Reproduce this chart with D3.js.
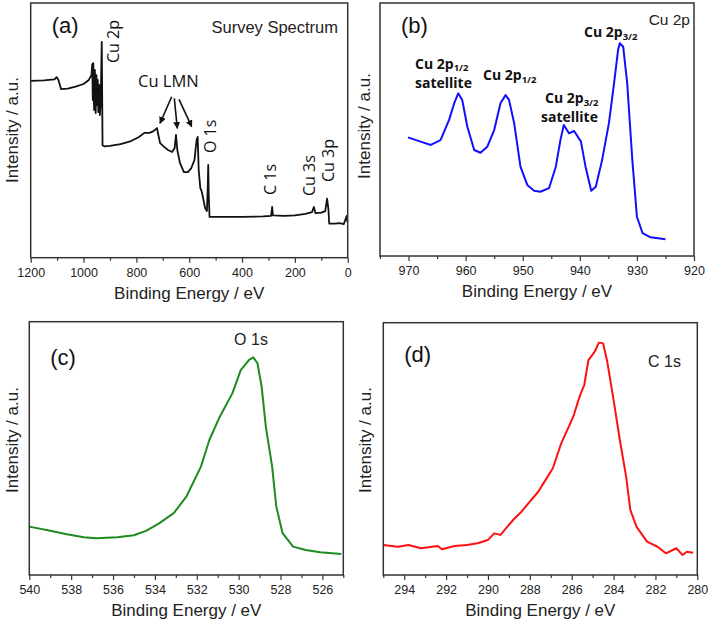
<!DOCTYPE html>
<html><head><meta charset="utf-8">
<script src="https://cdn.jsdelivr.net/npm/d3@7"></script>
<style>body{margin:0;background:#fff}svg{display:block}</style>
</head><body>
<svg id="c" width="708" height="626"></svg>
<script>
// ---- Data ----
// (a) Survey spectrum
const surveyEV = [1200,1150,1110,1102,1095,1085,1060,1030,1000,980,970,967,965,963,960,957,954,951,948,946,944,941,938,935,931,928,920,900,860,820,790,770,750,735,722,716,710,695,680,665,655,650,645,635,620,605,592,580,572,568,564,558,552,546,540,533,530,528,526,523,480,400,320,290,286,283,240,200,160,135,128,122,100,85,78,73,70,50,30,15,8,4,1];
const surveyI = [69.4,69.6,70.0,70.9,69.8,66.2,66.4,67.2,68.2,69.8,71.7,76.0,61.9,76.4,58.0,73.7,56.8,71.7,59.9,69.8,57.2,67.8,56.0,61.9,84.7,44.2,43.7,43.9,44.6,45.8,47.4,49.0,49.0,49.7,50.9,47.8,45.0,43.5,42.3,41.5,43.1,48.2,42.3,37.2,33.6,33.6,35.2,38.4,46.2,47.4,34.4,27.4,25.8,22.7,19.5,18.3,26.6,36.4,24.5,16.0,16.0,16.0,16.2,16.4,19.9,16.6,16.4,16.6,17.2,17.9,19.9,17.5,17.7,18.3,23.2,19.1,13.4,13.4,13.6,13.2,15.2,16.4,14.0];
// (b) Cu 2p
const cu2pEV = [970.1,967.9,966.1,964.4,962.9,962.0,961.3,960.6,959.7,958.5,957.4,956.2,955.0,953.9,953.0,952.4,951.5,950.4,949.2,948.0,946.9,945.4,944.2,943.4,942.8,941.9,941.0,939.8,939.0,938.0,937.2,936.1,934.9,934.0,933.3,933.0,932.4,931.7,930.8,930.0,929.0,927.6,925.0];
const cu2pI = [46.9,45.2,43.9,45.8,53.8,60.4,64.3,61.7,51.1,41.9,40.8,43.2,49.8,60.4,63.6,61.7,52.5,35.3,28.1,25.8,25.4,26.8,35.3,45.8,51.8,48.5,49.4,45.2,35.3,25.8,27.4,37.9,52.5,68.3,81.4,84.1,82.7,68.3,37.9,15.5,9.0,7.4,6.6];
// (c) O 1s
const o1sEV = [540,539.0,538.2,537.4,536.8,535.8,535.0,534.4,533.8,533.1,532.5,531.8,531.4,530.9,530.3,529.9,529.5,529.3,529.1,528.9,528.7,528.4,528.2,527.9,527.4,526.8,526.1,525.1];
const o1sI = [19.1,17.5,16.1,14.9,14.5,14.9,15.7,17.5,20.4,24.4,30.9,42.8,53.3,62.5,71.7,80.9,84.9,85.9,83.6,74.3,58.5,42.8,27.0,16.5,11.2,9.9,9.0,8.3];
// (d) C 1s
const c1sEV = [295.0,294.3,293.8,293.2,292.4,292.2,291.6,291.0,290.5,290.0,289.7,289.4,289.1,288.8,288.4,288.0,287.6,287.3,286.9,286.5,286.1,285.9,285.6,285.4,285.2,284.9,284.7,284.5,284.3,284.0,283.7,283.4,283.2,282.9,282.4,281.9,281.5,281.0,280.7,280.5,280.2];
const c1sI = [11.9,11.2,11.9,10.6,11.5,10.2,11.5,11.9,12.6,13.9,16.5,15.9,18.9,21.8,25.1,29.1,33.0,37.0,42.3,52.2,59.5,63.4,71.3,75.3,85.2,88.5,92.1,91.8,84.5,69.4,53.5,39.0,25.8,19.1,13.2,11.2,8.6,10.6,7.9,9.2,8.8];

// tick values
const surveyTicks = [1200,1000,800,600,400,200,0];
const surveyMinor = [1100,900,700,500,300,100];
const cu2pTicks = [970,960,950,940,930,920];
const cu2pMinor = [975,965,955,945,935,925];
const o1sTicks = [540,538,536,534,532,530,528,526];
const o1sMinor = [539,537,535,533,531,529,527,525];
const c1sTicks = [294,292,290,288,286,284,282,280];
const c1sMinor = [295,293,291,289,287,285,283,281];

const xTitle = "Binding Energy / eV";
const yTitle = "Intensity / a.u.";

// ---- Drawing ----
const svg = d3.select("#c");
svg.append("rect").attr("width",708).attr("height",626).attr("fill","#fff");
const defs = svg.append("defs");
defs.append("marker").attr("id","arr").attr("viewBox","0 0 10 10").attr("refX",9).attr("refY",5)
  .attr("markerWidth",7).attr("markerHeight",7).attr("markerUnits","userSpaceOnUse").attr("orient","auto")
  .append("path").attr("d","M0,0L10,5L0,10Z").attr("fill","#111");

const AX = "'Liberation Sans', Arial, sans-serif";

function panel(cfg){
  const x = d3.scaleLinear().domain(cfg.xDomain).range([cfg.left, cfg.right]);
  const y = d3.scaleLinear().domain([0,100]).range([cfg.bottom, cfg.top]);
  const g = svg.append("g");
  g.append("g").attr("transform",`translate(0,${cfg.bottom})`)
    .call(d3.axisBottom(x).tickValues(cfg.minor).tickSize(3).tickSizeOuter(0).tickFormat(""))
    .call(s=>{s.select(".domain").remove(); s.selectAll("line").attr("stroke","#333").attr("stroke-width",1.2);});
  g.append("g").attr("transform",`translate(0,${cfg.bottom})`)
    .call(d3.axisBottom(x).tickValues(cfg.ticks).tickSize(5).tickPadding(5).tickSizeOuter(0).tickFormat(d3.format("d")))
    .call(s=>{s.select(".domain").remove(); s.selectAll("line").attr("stroke","#333").attr("stroke-width",1.2);
      s.selectAll("text").attr("font-family",AX).attr("font-size",12.5).attr("fill","#222");});
  const pts = cfg.ev.map((e,i)=>[e,cfg.inten[i]]);
  g.append("path").datum(pts)
    .attr("d", d3.line().x(d=>x(d[0])).y(d=>y(d[1])))
    .attr("fill","none").attr("stroke",cfg.color).attr("stroke-width",cfg.lw||2).attr("stroke-linejoin","round");
  g.append("rect").attr("x",cfg.left).attr("y",cfg.top).attr("width",cfg.right-cfg.left).attr("height",cfg.bottom-cfg.top)
    .attr("fill","none").attr("stroke","#333").attr("stroke-width",1.5);
  g.append("text").attr("x",(cfg.left+cfg.right)/2).attr("y",cfg.bottom+41).attr("text-anchor","middle")
    .attr("font-family",AX).attr("font-size",17).attr("fill","#222").text(xTitle);
  g.append("text").attr("transform",`translate(${cfg.yx},${cfg.yy}) rotate(-90)`).attr("text-anchor","middle")
    .attr("dominant-baseline","middle").attr("font-family",AX).attr("font-size",17).attr("fill","#222").text(yTitle);
  g.append("text").attr("x",cfg.left+21).attr("y",cfg.top+cfg.letterDy).attr("font-family",AX).attr("font-size",22)
    .attr("fill","#111").text(cfg.letter);
  return {x,y,g};
}

panel({left:30.7,right:347.7,top:3,bottom:257.7,xDomain:[1200,0],ticks:surveyTicks,minor:surveyMinor,
  ev:surveyEV,inten:surveyI,color:"#111",lw:1.8,yx:14,yy:130,letter:"(a)",letterDy:30});
panel({left:380,right:694,top:3,bottom:256,xDomain:[975,920],ticks:cu2pTicks,minor:cu2pMinor,
  ev:cu2pEV,inten:cu2pI,color:"#1010ff",lw:2,yx:366,yy:126,letter:"(b)",letterDy:30});
panel({left:29.3,right:343.3,top:321.7,bottom:575,xDomain:[540,525],ticks:o1sTicks,minor:o1sMinor,
  ev:o1sEV,inten:o1sI,color:"#1f8a1f",lw:2,yx:14,yy:440,letter:"(c)",letterDy:43});
panel({left:383.3,right:697.3,top:322.7,bottom:575,xDomain:[295,280],ticks:c1sTicks,minor:c1sMinor,
  ev:c1sEV,inten:c1sI,color:"#ff1010",lw:2,yx:367,yy:440,letter:"(d)",letterDy:39});

const LB = "'Open Sans', 'Liberation Sans', sans-serif";
// (a) annotations
svg.append("text").attr("x",338).attr("y",33).attr("text-anchor","end").attr("font-family",AX)
  .attr("font-size",16.5).attr("fill","#222").text("Survey Spectrum");
const rot = [["Cu 2p",115,63],["O 1s",212,153],["C 1s",272,195],["Cu 3s",311,196],["Cu 3p",330,182]];
rot.forEach(([t,cx,by])=>{
  svg.append("text").attr("transform",`translate(${cx},${by}) rotate(-90)`).attr("dominant-baseline","middle")
    .attr("font-family",LB).attr("font-size",16).attr("fill","#111").text(t);
});
svg.append("text").attr("x",138).attr("y",87).attr("font-family",LB).attr("font-size",16.5).attr("fill","#111").text("Cu LMN");
[[171.7,96.7,160,123.3],[174.3,98.3,177.3,128.3],[179,99.3,191.7,126.7]].forEach(([x1,y1,x2,y2])=>{
  svg.append("line").attr("x1",x1).attr("y1",y1).attr("x2",x2).attr("y2",y2).attr("stroke","#111")
    .attr("stroke-width",1.6).attr("marker-end","url(#arr)");
});

// (b) annotations
svg.append("text").attr("x",690).attr("y",25).attr("text-anchor","end").attr("font-family",AX)
  .attr("font-size",15.5).attr("fill","#222").text("Cu 2p");
function sublabel(x,yb,main,sub){
  const t = svg.append("text").attr("x",x).attr("y",yb).attr("font-family",LB).attr("font-weight",700)
    .attr("font-size",14).attr("fill","#111");
  t.append("tspan").text(main);
  t.append("tspan").attr("font-size",9.5).attr("dy",2.5).text(sub);
  return t;
}
function plain(x,yb,txt){
  svg.append("text").attr("x",x).attr("y",yb).attr("font-family",LB).attr("font-weight",700).attr("font-size",14)
    .attr("fill","#111").text(txt);
}
sublabel(584,37,"Cu 2p","3/2");
sublabel(415,68.5,"Cu 2p","1/2");
plain(415,88,"satellite");
sublabel(483,80,"Cu 2p","1/2");
sublabel(545,103,"Cu 2p","3/2");
plain(541,122,"satellite");

// (c), (d) annotations
svg.append("text").attr("x",251).attr("y",345).attr("text-anchor","middle").attr("font-family",AX)
  .attr("font-size",16).attr("fill","#222").text("O 1s");
svg.append("text").attr("x",681).attr("y",367).attr("text-anchor","end").attr("font-family",AX)
  .attr("font-size",16).attr("fill","#222").text("C 1s");
</script>
</body></html>
